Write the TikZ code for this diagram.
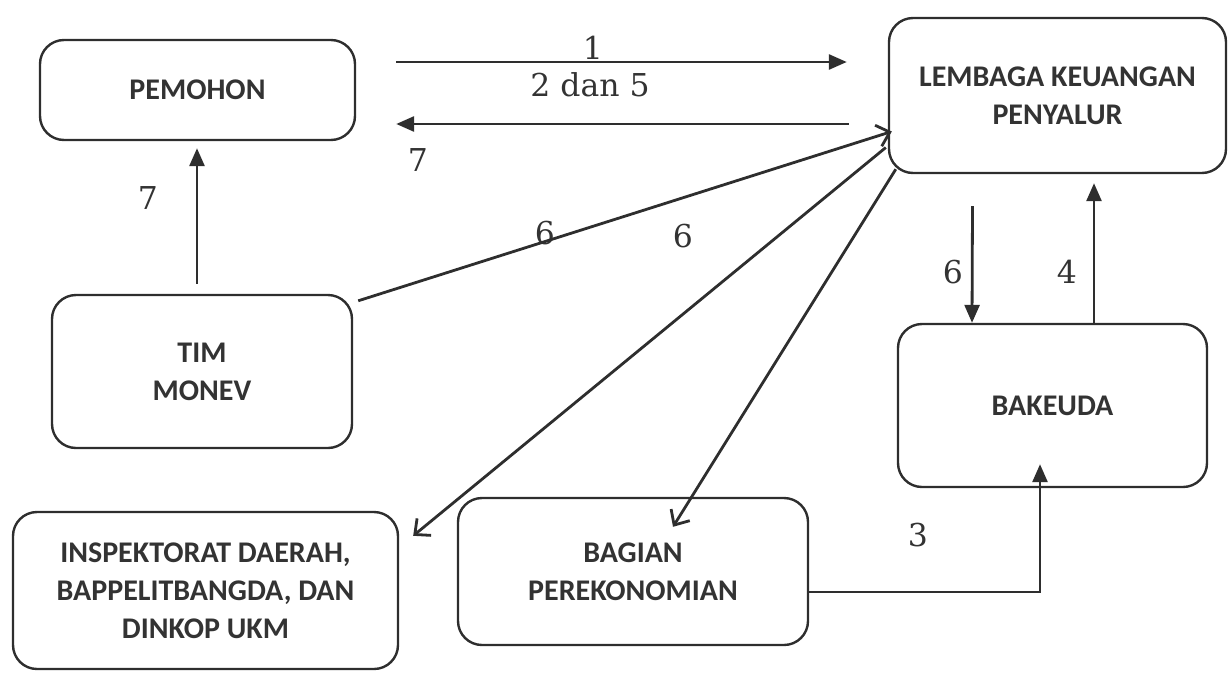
\documentclass[tikz,border=0pt]{standalone}
\usepackage{fontspec}
\setmainfont{Carlito}
\newfontfamily\numfont{DejaVu Serif}
\usetikzlibrary{arrows.meta,positioning}
\tikzset{
	box/.style = {rectangle, draw=black!82, line width=2.4pt, rounded corners=24pt, align=center, inner sep=0pt, text=black!80, font=\fontsize{30}{38}\selectfont\bfseries},
	flow/.style = {draw=black!82, line width=2.8pt, -{Triangle[length=18pt,width=15pt]}},
	flowv/.style = {draw=black!82, line width=2.8pt, -{Straight Barb[length=12pt,width=22pt,line width=2.8pt]}},
	num/.style = {inner sep=0pt, text=black!80, font=\numfont\fontsize{31.5}{31.5}\selectfont}
}
\begin{document}
\begin{tikzpicture}[x=1pt,y=-1pt]
	\useasboundingbox (0,0) rectangle (1228,672);
	% boxes
	\node [box, minimum width=315pt, minimum height=100pt] (pemohon) at (197.5,90) {PEMOHON};
	\node [box, minimum width=337pt, minimum height=155pt] (lembaga) at (1057.5,95.5) {LEMBAGA KEUANGAN\\PENYALUR};
	\node [box, minimum width=300pt, minimum height=153pt] (monev) at (202,371.5) {TIM\\MONEV};
	\node [box, minimum width=309pt, minimum height=163pt] (bakeuda) at (1052.5,405.5) {BAKEUDA};
	\node [box, minimum width=385pt, minimum height=157pt] (inspek) at (205.5,590.5) {INSPEKTORAT DAERAH,\\BAPPELITBANGDA, DAN\\DINKOP UKM};
	\node [box, minimum width=350pt, minimum height=147pt] (bagian) at (633,571.5) {BAGIAN\\PEREKONOMIAN};
	% numbers
	\node [num] (n1) at (593,48) {1};
	\node [num] (n25) at (590,85) {2 dan 5};
	\node [num] (n7a) at (418,160) {7};
	\node [num] (n7b) at (148,198) {7};
	\node [num] (n6a) at (545,233) {6};
	\node [num] (n6b) at (683,236) {6};
	\node [num] (n6c) at (953,272) {6};
	\node [num] (n4) at (1067,272) {4};
	\node [num] (n3) at (918,535) {3};
	% flows
	\draw [flow] ([xshift=40pt,yshift=28pt]pemohon.east) -- ([xshift=-41pt,yshift=33.5pt]lembaga.west);
	\draw [flow] ([xshift=-39pt,yshift=-28.5pt]lembaga.west) -- ([xshift=40pt,yshift=-34pt]pemohon.east);
	\draw [flow] ([xshift=-5pt,yshift=10pt]monev.north) -- ([xshift=-0.5pt,yshift=-7pt]pemohon.south);
	\draw [flowv] ([xshift=5pt,yshift=-7pt]monev.north east) -- ([xshift=4pt,yshift=-36pt]lembaga.west);
	\draw [flowv] ([xshift=-2pt,yshift=-52pt]lembaga.west) -- ([xshift=14pt,yshift=-25pt]inspek.north east);
	\draw [flowv] ([xshift=8pt,yshift=5pt]lembaga.south west) -- ([xshift=40pt,yshift=-30pt]bagian.north);
	\draw [flow] ([xshift=-85pt,yshift=-32pt]lembaga.south) -- ([xshift=-80.5pt]bakeuda.north);
	\draw [flow] ([xshift=41.5pt]bakeuda.north) -- ([xshift=36.5pt,yshift=-9pt]lembaga.south);
	\draw [flow] ([yshift=-20.5pt]bagian.east) -| ([xshift=-12.5pt,yshift=24pt]bakeuda.south);
\end{tikzpicture}
\end{document}
